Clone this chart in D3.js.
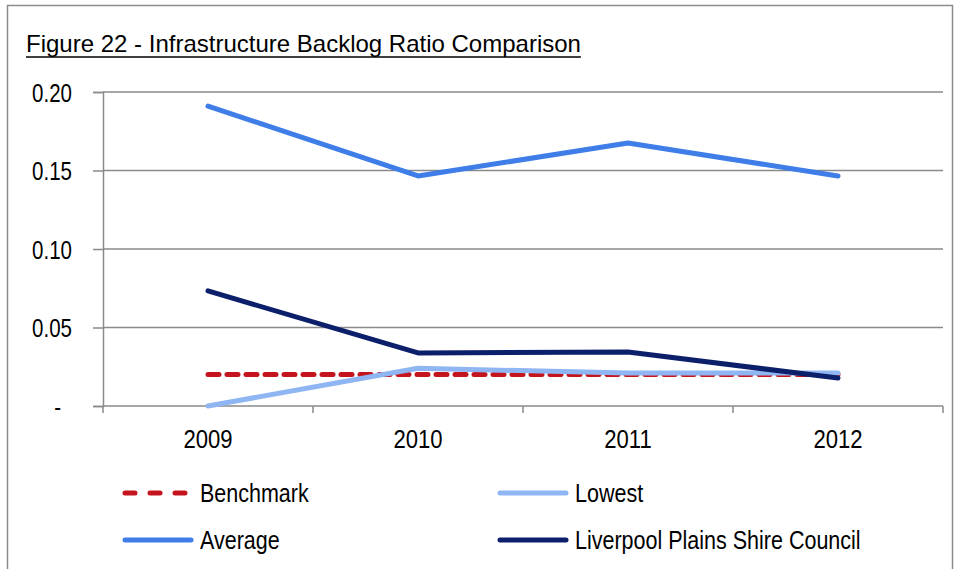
<!DOCTYPE html>
<html><head><meta charset="utf-8">
<script src="https://cdn.jsdelivr.net/npm/d3@7"></script>
<style>
html,body{margin:0;padding:0;background:#fff;}
svg{display:block;}
text{font-family:"Liberation Sans","Arial",sans-serif;fill:#000;}
</style></head>
<body>
<script>
const years = ["2009","2010","2011","2012"];
const benchmark = [0.02, 0.02, 0.02, 0.02];
const lowest = [0.0, 0.024, 0.021, 0.021];
const average = [0.191, 0.1465, 0.1675, 0.1465];
const liverpool = [0.0733, 0.0338, 0.0344, 0.0178];
const yTicks = [0, 0.05, 0.10, 0.15, 0.20];
const yTickLabels = ["-", "0.05", "0.10", "0.15", "0.20"];
const seriesNames = ["Benchmark", "Lowest", "Average", "Liverpool Plains Shire Council"];
const title = "Figure 22 - Infrastructure Backlog Ratio Comparison";

(function () {
const W = 960, H = 569;
const svg = d3.select("body").append("svg").attr("width", W).attr("height", H);

function squeeze(sel, f) {
  sel.each(function () {
    const w = this.getComputedTextLength();
    d3.select(this).attr("textLength", w * f).attr("lengthAdjust", "spacingAndGlyphs");
  });
}

svg.append("rect").attr("x", 7.5).attr("y", 5.5).attr("width", 945).attr("height", 600)
  .attr("fill", "#fff").attr("stroke", "#8c8c8c").attr("stroke-width", 1.5);

const titleT = svg.append("text").attr("x", 26).attr("y", 52).attr("font-size", 24).text(title);
const bb = titleT.node().getBBox();
svg.append("line").attr("x1", bb.x).attr("x2", bb.x + bb.width).attr("y1", 57).attr("y2", 57)
  .attr("stroke", "#000").attr("stroke-width", 1.3);

const pL = 103, pR = 943, pT = 92, pB = 406;
const x = d3.scaleBand().domain(years).range([pL, pR]);
const y = d3.scaleLinear().domain([0, 0.20]).range([pB, pT]);

svg.append("g").selectAll("line").data(yTicks.filter(d => d > 0)).join("line")
  .attr("x1", pL).attr("x2", pR).attr("y1", d => y(d)).attr("y2", d => y(d))
  .attr("stroke", "#8a8a8a").attr("stroke-width", 1.5);

const yAxis = d3.axisLeft(y).tickValues(yTicks).tickSize(10).tickPadding(21)
  .tickFormat((d, i) => yTickLabels[i]);
const gy = svg.append("g").attr("transform", `translate(${pL},0)`).call(yAxis);
gy.select(".domain").attr("stroke", "#8a8a8a").attr("stroke-width", 1.5);
gy.selectAll(".tick line").attr("stroke", "#8a8a8a").attr("stroke-width", 1.5);
gy.selectAll(".tick text").attr("font-size", 25).attr("font-family", '"Liberation Sans",Arial,sans-serif').attr("dy", "0.36em");
squeeze(gy.selectAll(".tick text"), 0.82);
gy.selectAll(".tick text").filter((d) => d === 0).attr("dx", -11);

const gx = svg.append("g").attr("transform", `translate(0,${pB})`);
gx.append("line").attr("x1", pL).attr("x2", pR).attr("y1", 0).attr("y2", 0)
  .attr("stroke", "#8a8a8a").attr("stroke-width", 1.5);
const bounds = years.map(d => x(d)).concat([x(years[years.length - 1]) + x.bandwidth()]);
gx.selectAll("line.tk").data(bounds).join("line").attr("class", "tk")
  .attr("x1", d => d).attr("x2", d => d).attr("y1", 0).attr("y2", 7)
  .attr("stroke", "#8a8a8a").attr("stroke-width", 1.5);
const yl = gx.selectAll("text").data(years).join("text")
  .attr("x", d => x(d) + x.bandwidth() / 2).attr("y", 42)
  .attr("text-anchor", "middle").attr("font-size", 26).text(d => d);
squeeze(yl, 0.85);

const line = d3.line().x((d, i) => x(years[i]) + x.bandwidth() / 2).y(d => y(d));
const series = [
  {name: seriesNames[0], vals: benchmark, color: "#c4151f", dash: "11,8"},
  {name: seriesNames[1], vals: lowest, color: "#90b5f3", dash: null},
  {name: seriesNames[2], vals: average, color: "#3f7ee8", dash: null},
  {name: seriesNames[3], vals: liverpool, color: "#0c1f6b", dash: null}
];
series.forEach(s => {
  svg.append("path").datum(s.vals).attr("d", line).attr("fill", "none")
    .attr("stroke", s.color).attr("stroke-width", 5).attr("stroke-linecap", "round")
    .attr("stroke-linejoin", "round").attr("stroke-dasharray", s.dash);
});

const legPos = [[123, 493], [498, 493], [123, 540], [498, 540]];
series.forEach((s, i) => {
  const [lx, ly] = legPos[i];
  svg.append("line").attr("x1", lx + 2).attr("x2", lx + 68).attr("y1", ly).attr("y2", ly)
    .attr("stroke", s.color).attr("stroke-width", 5).attr("stroke-linecap", "round")
    .attr("stroke-dasharray", s.dash ? "10,15" : null);
  const t = svg.append("text").attr("x", lx + 77).attr("y", ly + 9).attr("font-size", 25).text(s.name);
  squeeze(t, 0.86);
});
})();
</script>
</body></html>
